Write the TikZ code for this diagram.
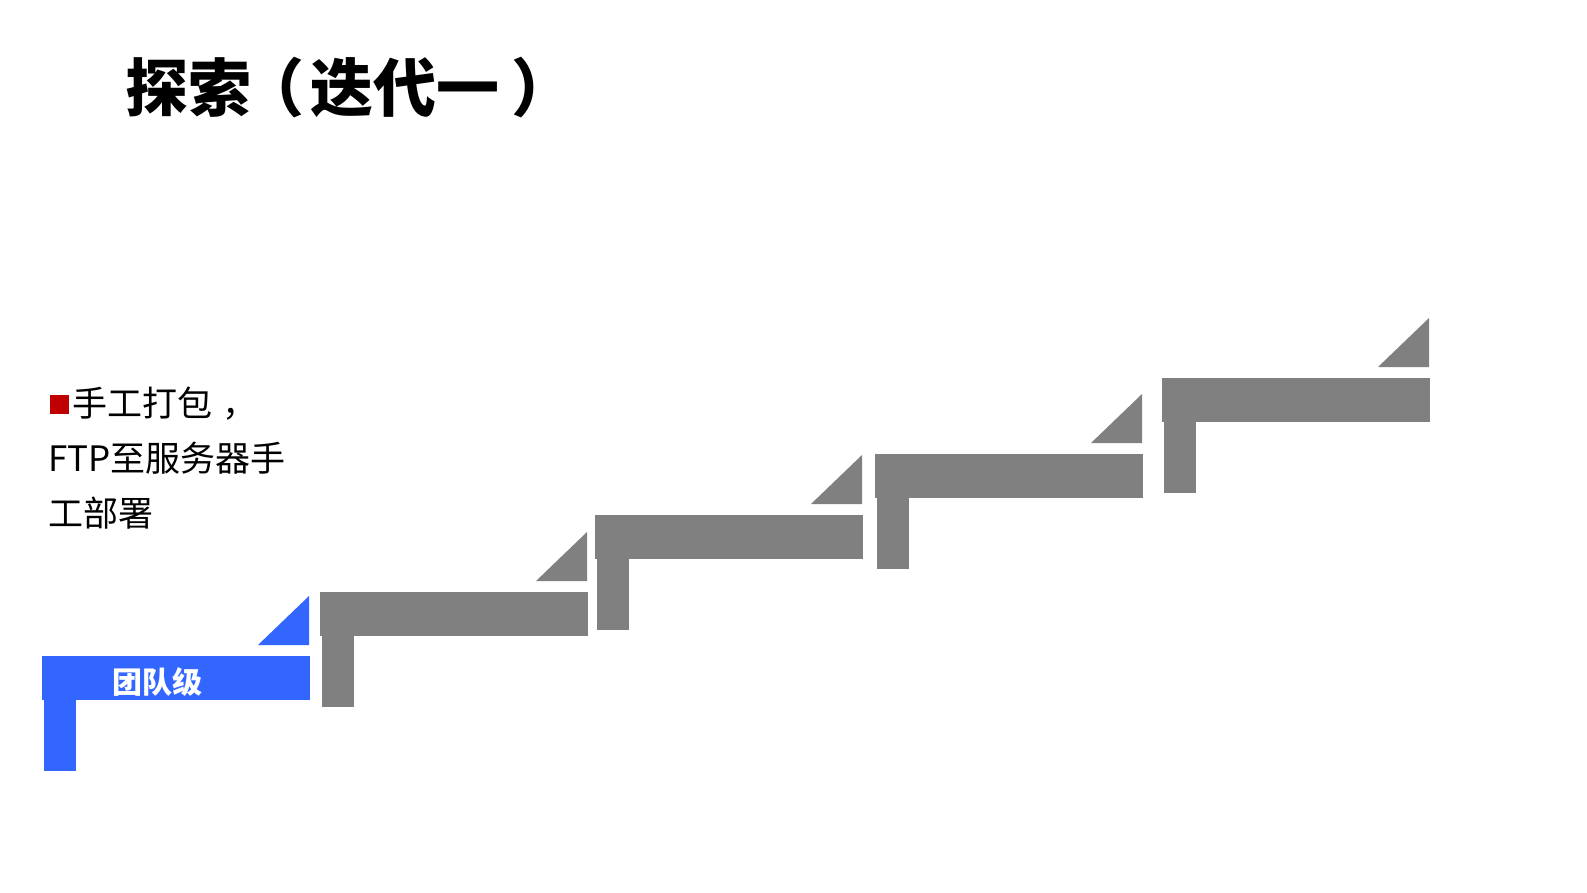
\documentclass[tikz,border=0pt]{standalone}
\usepackage{fontspec}
\usepackage{tikz}
\setmainfont{Noto Sans CJK SC}
\newfontfamily\cjk{Noto Sans CJK SC}
\definecolor{stepblue}{HTML}{3366FF}
\definecolor{stepgray}{HTML}{808080}
\definecolor{bulletred}{HTML}{C00000}
\usetikzlibrary{positioning}
\tikzset{
    title/.style={inner sep=0pt, anchor=west, font=\cjk\bfseries\fontsize{63}{68}\selectfont},
    bodytext/.style={inner sep=0pt, anchor=west, font=\cjk\fontsize{35}{40}\selectfont},
    levellabel/.style={inner sep=0pt, text=white, font=\cjk\bfseries\fontsize{30}{34}\selectfont}
}

\begin{document}
\begin{tikzpicture}[x=1pt, y=-1pt]
    \fill[white] (0,0) rectangle (1587,892);
    \useasboundingbox (0,0) rectangle (1587,892);
    % stairs: bar, leg, triangle
    \foreach \x/\y/\c in {42/656/stepblue, 320/592/stepgray, 595/515/stepgray, 875/454/stepgray, 1162/378/stepgray} {
        \fill[\c] (\x,\y) rectangle ++(268,44);
        \fill[\c] (\x+2,\y+44) rectangle ++(32,71);
        \fill[\c] (\x+267,\y-11) -- ++(0,-49) -- ++(-51,49) -- cycle;
    }
    \node[title] (head) at (125,88) {探索\hspace{-10pt}（\hspace{6pt}迭代一\hspace{12pt}）};
    \node[fill=bulletred, inner sep=0pt, minimum size=19] (bullet) at (59,404) {};
    \node[bodytext] (line1) at (72,404) {手工打包\hspace{10pt}，};
    \node[bodytext] (line2) at (48,458) {FTP至服务器手};
    \node[bodytext] (line3) at (48,513) {工部署};
    \node[levellabel] (team) at (157,682) {团队级};
\end{tikzpicture}
\end{document}
